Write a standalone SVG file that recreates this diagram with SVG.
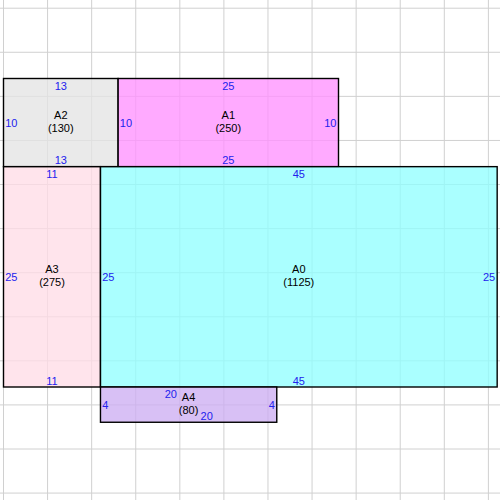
<svg xmlns="http://www.w3.org/2000/svg" width="500" height="500" viewBox="0 0 500 500">
<style>
.grid line{stroke:#d0d0d0;stroke-width:1}
.box{stroke:#000;stroke-width:1.4;fill-opacity:0.77}
.name{font-family:"Liberation Sans",Arial,sans-serif;font-size:11px;fill:#000;text-anchor:middle}
.dim{font-family:"Liberation Sans",Arial,sans-serif;font-size:11px;fill:#2222ee}
.c{text-anchor:middle}
.e{text-anchor:end}
</style>
<rect x="0" y="0" width="500" height="500" fill="#fff"/>
<g class="grid">
<line x1="3.5" y1="0" x2="3.5" y2="500"/>
<line x1="47.58" y1="0" x2="47.58" y2="500"/>
<line x1="91.66" y1="0" x2="91.66" y2="500"/>
<line x1="135.74" y1="0" x2="135.74" y2="500"/>
<line x1="179.82" y1="0" x2="179.82" y2="500"/>
<line x1="223.9" y1="0" x2="223.9" y2="500"/>
<line x1="267.98" y1="0" x2="267.98" y2="500"/>
<line x1="312.06" y1="0" x2="312.06" y2="500"/>
<line x1="356.14" y1="0" x2="356.14" y2="500"/>
<line x1="400.22" y1="0" x2="400.22" y2="500"/>
<line x1="444.3" y1="0" x2="444.3" y2="500"/>
<line x1="488.38" y1="0" x2="488.38" y2="500"/>
<line x1="0" y1="8.2" x2="500" y2="8.2"/>
<line x1="0" y1="52.28" x2="500" y2="52.28"/>
<line x1="0" y1="96.36" x2="500" y2="96.36"/>
<line x1="0" y1="140.44" x2="500" y2="140.44"/>
<line x1="0" y1="184.52" x2="500" y2="184.52"/>
<line x1="0" y1="228.6" x2="500" y2="228.6"/>
<line x1="0" y1="272.68" x2="500" y2="272.68"/>
<line x1="0" y1="316.76" x2="500" y2="316.76"/>
<line x1="0" y1="360.84" x2="500" y2="360.84"/>
<line x1="0" y1="404.92" x2="500" y2="404.92"/>
<line x1="0" y1="449" x2="500" y2="449"/>
<line x1="0" y1="493.08" x2="500" y2="493.08"/>
</g>
<g id="A2">
<rect class="box" x="3.5" y="78.5" width="114.6" height="88.15" fill="#e4e4e4"/>
<text class="dim c" x="60.8" y="89.6">13</text>
<text class="dim c" x="60.8" y="164.3">13</text>
<text class="dim" x="5.2" y="126.6">10</text>
<text class="name" x="60.8" y="119.1">A2</text>
<text class="name" x="60.8" y="131.6">(130)</text>
</g>
<g id="A1">
<rect class="box" x="118.1" y="78.5" width="220.4" height="88.15" fill="#ff91ff"/>
<text class="dim c" x="228.3" y="89.6">25</text>
<text class="dim c" x="228.3" y="164.3">25</text>
<text class="dim" x="119.8" y="126.6">10</text>
<text class="dim e" x="336.5" y="126.6">10</text>
<text class="name" x="228.3" y="119.1">A1</text>
<text class="name" x="228.3" y="131.6">(250)</text>
</g>
<g id="A3">
<rect class="box" x="3.5" y="166.65" width="96.97" height="220.35" fill="#ffdce6"/>
<text class="dim c" x="52" y="177.8">11</text>
<text class="dim c" x="52" y="384.7">11</text>
<text class="dim" x="5.2" y="280.8">25</text>
<text class="name" x="52" y="273.3">A3</text>
<text class="name" x="52" y="285.8">(275)</text>
</g>
<g id="A0">
<rect class="box" x="100.47" y="166.65" width="396.7" height="220.35" fill="#91ffff"/>
<text class="dim c" x="298.8" y="177.8">45</text>
<text class="dim c" x="298.8" y="384.7">45</text>
<text class="dim" x="102.2" y="280.8">25</text>
<text class="dim e" x="495.2" y="280.8">25</text>
<text class="name" x="298.8" y="273.3">A0</text>
<text class="name" x="298.8" y="285.8">(1125)</text>
</g>
<g id="A4">
<rect class="box" x="100.47" y="387" width="176.3" height="35.26" fill="#ccadf2"/>
<text class="dim c" x="170.8" y="398.1">20</text>
<text class="dim c" x="206.7" y="419.9">20</text>
<text class="dim" x="102.2" y="408.6">4</text>
<text class="dim e" x="274.8" y="408.6">4</text>
<text class="name" x="188.6" y="401.1">A4</text>
<text class="name" x="188.6" y="413.6">(80)</text>
</g>
</svg>
